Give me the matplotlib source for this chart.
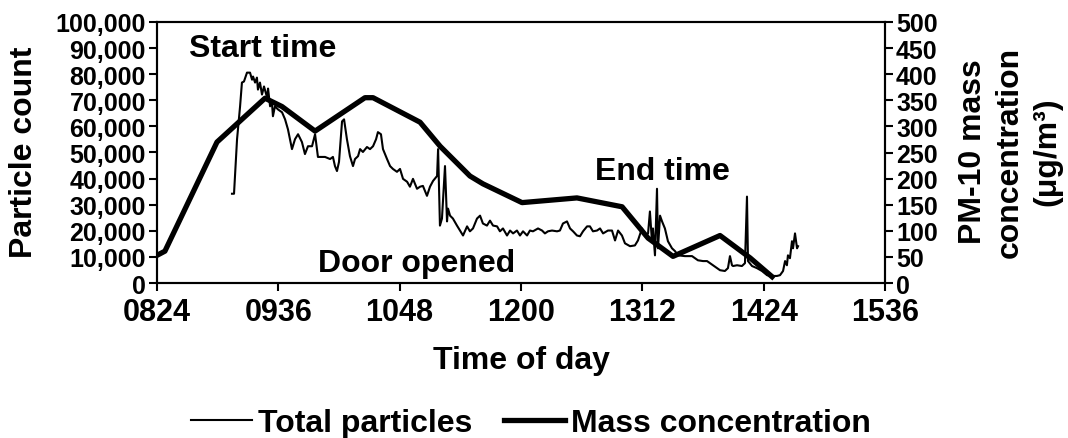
#Particle count vs PM-10 mass concentration over the day
import matplotlib
matplotlib.use('Agg')
import matplotlib.pyplot as plt
from matplotlib.ticker import FuncFormatter, MultipleLocator

plt.rcParams['font.family'] = ['Liberation Sans', 'DejaVu Sans']
plt.rcParams['font.weight'] = 'bold'

#Total particle counts (time in minutes after midnight)
pc_time = [548.5, 549.7, 551.5, 553.3, 554.4, 555.6, 557.4, 559.2, 560.4, 561.0,
           562.2, 563.3, 563.9, 565.1, 566.3, 567.5, 569.3, 569.9, 571.1, 572.2,
           572.8, 574.0, 575.8, 578.2, 580.0, 581.7, 584.1, 585.9, 587.7, 590.0,
           591.8, 593.6, 596.0, 597.8, 598.9, 599.5, 601.9, 603.7, 606.7, 608.4,
           609.6, 610.8, 612.0, 613.8, 615.0, 616.7, 618.5, 620.3, 621.5, 623.3,
           624.5, 626.2, 628.6, 630.4, 632.2, 634.0, 635.1, 636.9, 638.1, 640.5,
           642.3, 644.0, 646.4, 648.2, 650.0, 652.4, 654.1, 655.9, 658.3, 660.1,
           661.8, 664.2, 666.0, 667.8, 670.2, 670.8, 671.9, 673.1, 673.7, 674.9,
           676.1, 676.7, 677.9, 679.6, 682.0, 683.8, 685.6, 688.0, 689.7, 691.5,
           693.9, 695.7, 697.4, 699.8, 701.6, 703.4, 705.8, 707.5, 709.3, 711.7,
           713.5, 715.3, 717.6, 719.4, 721.2, 723.6, 725.3, 727.1, 730.1, 732.5,
           734.2, 736.0, 738.4, 741.4, 743.1, 744.9, 747.3, 749.1, 750.9, 753.2,
           755.0, 756.8, 759.2, 760.9, 762.7, 765.1, 766.9, 768.7, 771.6, 774.0,
           775.8, 777.6, 779.9, 781.7, 784.7, 787.6, 789.4, 791.8, 793.6, 795.4,
           796.5, 797.7, 798.3, 799.5, 800.7, 801.3, 802.5, 803.7, 805.4, 807.2,
           809.6, 811.4, 813.2, 817.3, 821.5, 825.0, 828.0, 830.4, 833.9, 838.1,
           841.0, 842.8, 844.0, 845.2, 845.8, 848.2, 851.1, 852.9, 854.1, 854.7,
           857.1, 860.0, 863.0, 866.0, 868.9, 871.9, 873.7, 875.5, 876.7, 877.8,
           878.4, 879.6, 880.8, 881.4, 882.6, 883.8, 884.4]
pc_count = [34200, 34200, 55100, 67700, 76800, 77200, 80600, 80600, 77900, 79100,
            76800, 78700, 74100, 76800, 72200, 75300, 71100, 74500, 67700, 69200,
            63900, 67700, 66500, 65400, 62700, 58900, 51300, 55100, 57000, 54000,
            49400, 52400, 52400, 57000, 51300, 48300, 48300, 48300, 47500, 48300,
            44800, 42900, 46400, 61900, 62700, 55100, 48600, 44800, 47500, 48600,
            51300, 50200, 52100, 51300, 52400, 55100, 57800, 57000, 51300, 47500,
            44800, 43700, 42600, 43700, 39900, 38800, 36900, 39900, 36100, 36900,
            37200, 33400, 36900, 39100, 41000, 51300, 22000, 24700, 31200, 44800,
            23600, 28500, 25800, 24700, 22000, 20100, 18200, 21700, 19800, 20900,
            24700, 25800, 22800, 22000, 23900, 22000, 21700, 19800, 20900, 18200,
            20100, 19000, 20100, 18200, 19800, 18200, 20100, 19800, 20900, 20100,
            19000, 19800, 20100, 19800, 20100, 22800, 23600, 20900, 19800, 18200,
            17900, 19800, 21700, 21700, 19800, 20100, 20900, 19000, 20100, 20100,
            16300, 20100, 18200, 15200, 14100, 14400, 16300, 20900, 17900, 19000,
            27400, 16000, 20900, 10600, 36100, 13300, 25800, 23600, 20900, 16000,
            13300, 12200, 10600, 10300, 10300, 8700, 8400, 8400, 6800, 4900,
            4600, 5700, 10300, 6800, 6500, 6800, 6500, 7600, 33100, 8400,
            6500, 5700, 4600, 3000, 2700, 2700, 3000, 4600, 8400, 6800,
            10600, 9500, 16000, 13300, 19000, 13300, 14100]

#PM-10 mass concentration (ug/m3)
pm_time = [504, 508.7, 539.6, 568.1, 578.2, 597.8, 627.4, 632.2, 660.1, 672.0,
           689.7, 697.4, 720.6, 753.2, 780.0, 795.4, 810.2, 838.1, 856.0, 869.0]
pm_mass = [53, 61, 270, 354, 338, 291, 355, 355, 308, 262,
           205, 190, 154, 163, 146, 86, 51, 91, 48, 12]

xticks = [504, 576, 648, 720, 792, 864, 936]

fig = plt.figure(figsize=(10.68, 4.39), dpi=100)
ax = fig.add_axes([157/1068, 1-284/439, 728/1068, 261/439])
ax2 = ax.twinx()

l1, = ax.plot(pc_time, pc_count, color='black', lw=1.5, label='Total particles')
l2, = ax2.plot(pm_time, pm_mass, color='black', lw=3.8, solid_joinstyle='round',
               label='Mass concentration')

ax.set_xlim(504, 936)
ax.set_ylim(0, 100000)
ax2.set_ylim(0, 500)
ax.set_xticks(xticks)
ax.xaxis.set_major_formatter(FuncFormatter(lambda v, p: '%02d%02d' % (int(v)//60, int(v) % 60)))
ax.yaxis.set_major_locator(MultipleLocator(10000))
ax.yaxis.set_major_formatter(FuncFormatter(lambda v, p: '{:,.0f}'.format(v)))
ax2.yaxis.set_major_locator(MultipleLocator(50))

for a in (ax, ax2):
    for s in a.spines.values():
        s.set_linewidth(1.5)
ax.tick_params(axis='x', direction='out', length=6, width=1.5, pad=4, labelsize=22)
ax.tick_params(axis='y', direction='out', length=6, width=1.5, pad=2, labelsize=18)
ax2.tick_params(axis='y', direction='out', length=6, width=1.5, pad=2, labelsize=18)

#annotations
ax.text(566.9, 87000, 'Start time', fontsize=23, ha='center', va='baseline')
ax.text(658.3, 4600, 'Door opened', fontsize=23, ha='center', va='baseline')
ax.text(804, 40000, 'End time', fontsize=23, ha='center', va='baseline')

#axis labels
fig.text(24/1068, 1-152/439, 'Particle count', fontsize=23, rotation=90, ha='center', va='center')
fig.text(1010/1068, 1-152/439, 'PM-10 mass\nconcentration\n(\u03bcg/m\u00b3)', fontsize=23,
         rotation=90, ha='center', va='center', multialignment='center', linespacing=1.3)
fig.text(521/1068, 1-361/439, 'Time of day', fontsize=23, ha='center', va='center')

fig.legend(handles=[l1, l2], loc='center', bbox_to_anchor=(531/1068, 15/439), ncol=2,
           frameon=False, fontsize=23, handlelength=1.9, handletextpad=0.2,
           columnspacing=1.0)

fig.savefig('out.png', dpi=100)
